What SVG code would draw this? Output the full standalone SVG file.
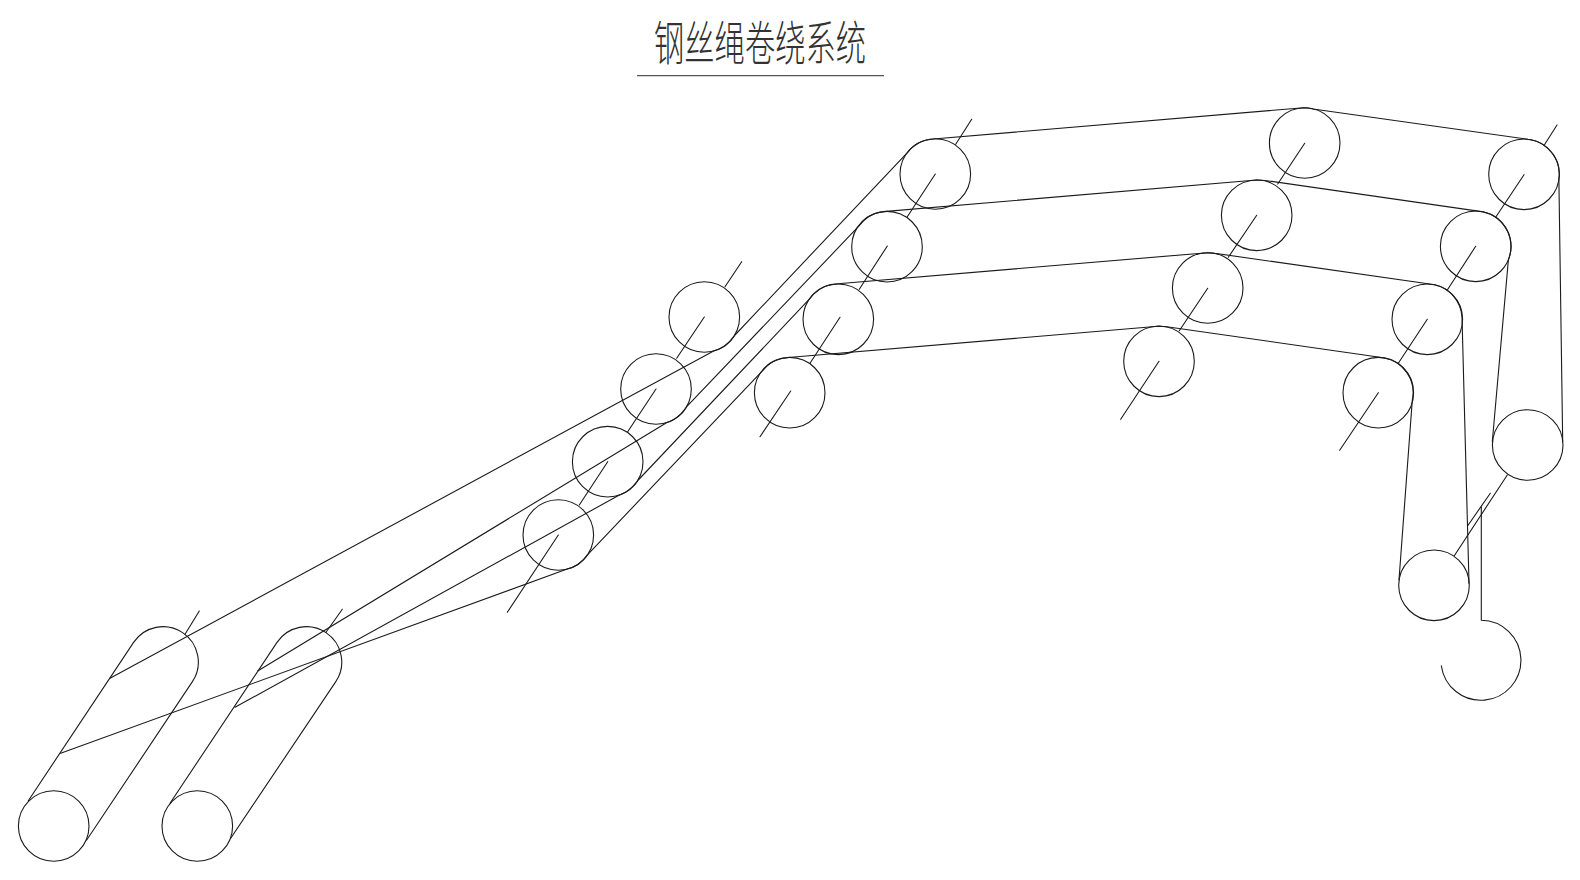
<svg xmlns="http://www.w3.org/2000/svg" width="1580" height="880" viewBox="0 0 1580 880">
<style>
.s{fill:none;stroke:#1a1a1a;stroke-width:1.1;stroke-linecap:round;stroke-linejoin:round}
.t{font-family:"Noto Sans CJK SC","Noto Sans CJK JP",sans-serif;font-size:47px;font-weight:300;fill:#333}
</style>
<rect width="1580" height="880" fill="#fff"/>
<g id="title"><text class="t" transform="translate(654,60) scale(.645,1)">钢丝绳卷绕系统</text><line x1="637" y1="75.7" x2="884" y2="75.7" stroke="#555" stroke-width="1.3"/></g>
<defs><circle id="p" r="35.3" class="s"/></defs>
<g id="pulleys">
<g id="p1"><use href="#p" x="704.3" y="317"/></g>
<g id="p2"><use href="#p" x="656" y="389"/></g>
<g id="p3"><use href="#p" x="607.7" y="461.7"/></g>
<g id="p4"><use href="#p" x="558.3" y="535"/></g>
<g id="p5"><use href="#p" x="935.3" y="174"/></g>
<g id="p6"><use href="#p" x="887" y="246.7"/></g>
<g id="p7"><use href="#p" x="838.3" y="319.3"/></g>
<g id="p8"><use href="#p" x="789.7" y="392.7"/></g>
<g id="p9"><use href="#p" x="1304.7" y="143"/></g>
<g id="p10"><use href="#p" x="1256.7" y="215.3"/></g>
<g id="p11"><use href="#p" x="1207.7" y="288"/></g>
<g id="p12"><use href="#p" x="1159" y="361.3"/></g>
<g id="p13"><use href="#p" x="1524" y="174.3"/></g>
<g id="p14"><use href="#p" x="1475.7" y="246.3"/></g>
<g id="p15"><use href="#p" x="1427.3" y="319.3"/></g>
<g id="p16"><use href="#p" x="1378.3" y="392.7"/></g>
<g id="p17"><use href="#p" x="1527.7" y="445"/></g>
<g id="p18"><use href="#p" x="1434" y="585.3"/></g>
<g id="drum1"><use href="#p" x="53.7" y="826"/><path class="s" d="M28.3 800.7L133.6 642.4A35.3 35.3 0 0 1 192.4 681.6L86.7 840"/></g>
<g id="drum2"><use href="#p" x="197.3" y="826"/><path class="s" d="M170 803.3L277 642.4A35.3 35.3 0 0 1 335.8 681.6L230.7 838.3"/></g>
<g id="hook"><path class="s" d="M1481.3 506.7V620.3A40 40 0 1 1 1441.3 665.7"/></g>
</g>
<g id="connectors" class="s">
<path d="M110 678.3L713.2 351.2A35.3 35.3 0 0 0 735 335L906.7 153.3A35.3 35.3 0 0 1 933.3 139L1304 107.7Q1308 107.7 1313 109L1528 139.3A35.3 35.3 0 0 1 1558.9 179.9L1562.7 441.7"/>
<path d="M257.7 671L666.5 422.7A35.3 35.3 0 0 0 686.7 406.7L858.3 226.7A35.3 35.3 0 0 1 883.3 211.6L1256.7 180Q1262 180 1266.7 180.7L1483.3 211.9A35.3 35.3 0 0 1 1508.4 259.6L1492.3 441.7"/>
<path d="M235 707.3L619.4 495A35.3 35.3 0 0 0 638.3 480L809.1 299.4A35.3 35.3 0 0 1 835 284L1207.7 252.7Q1212 252.7 1215 253.3L1434.9 284.8A35.3 35.3 0 0 1 1462 316.7L1469 583.3"/>
<path d="M60.7 753.3L566.5 569.3A35.3 35.3 0 0 0 587.7 554.6L761.7 371.7A35.3 35.3 0 0 1 788.3 357.5L1158.3 326.3Q1163 326.3 1166.7 326.7L1383.3 357.7A35.3 35.3 0 0 1 1412.3 400L1399 580"/>
<path d="M1507.3 475L1454.3 555.7M1490.3 493.3L1467.7 525.7"/>
<path d="M741.7 261.7L725 286.7M704.3 317L676.7 358.3M656 389L627.7 431.7M607.7 461.7L579.3 505M558.3 535L507.3 612.3"/>
<path d="M971.7 119.3L955.7 144.3M935.3 174L907.3 216.7M887.3 246L859.3 289.3M840 317.3L810 363.3M790.7 391L760 436.7"/>
<path d="M1304.7 143.3L1277.7 184M1256.7 215.3L1228.3 257.3M1207.7 288.3L1179.3 330.7M1159 361.3L1120.7 419.3"/>
<path d="M1557 125L1544.3 145M1524 174.7L1496 216.7M1475.7 246.3L1447.3 290M1427.3 319.3L1398.3 363.3M1378.3 392.7L1339.7 450.3"/>
<path d="M199.3 611L185 634.3M342.3 609.3L326 632.3"/>
</g>
</svg>
